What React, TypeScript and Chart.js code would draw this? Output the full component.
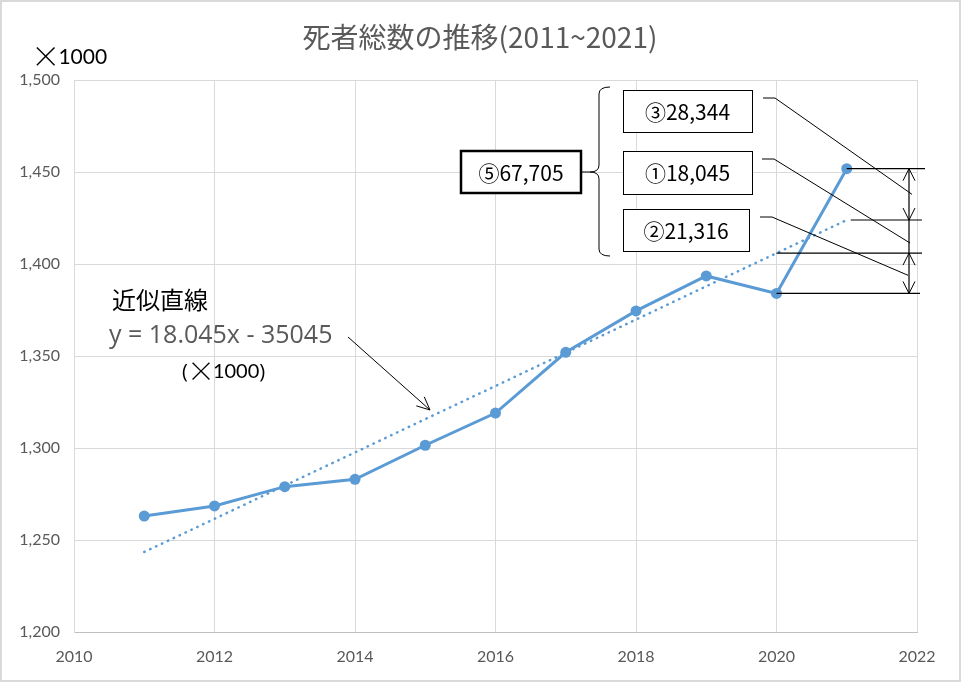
import { useEffect, useRef } from 'react';
import { Chart, registerables, type Plugin } from 'chart.js';

Chart.register(...registerables);

const years = [2011, 2012, 2013, 2014, 2015, 2016, 2017, 2018, 2019, 2020, 2021];
const deaths = [1263, 1268.5, 1279, 1283, 1301.5, 1319, 1352, 1374.5, 1393.5, 1384, 1451.8];
// straight-line fit as drawn (y = 18.045x - 35045, in thousands)
const trend = [1243.5, 1261.5, 1279.6, 1297.6, 1315.7, 1333.7, 1351.8, 1369.8, 1387.9, 1405.9, 1423.9];
const yTicks = [1200, 1250, 1300, 1350, 1400, 1450, 1500];
const xTicks = [2010, 2012, 2014, 2016, 2018, 2020, 2022];

const TITLE = '死者総数の推移(2011~2021)';
const boxLabels = ['③28,344', '①18,045', '②21,316'];
const totalLabel = '⑤67,705';
const fitLabel = '近似直線';
const fitEquation = 'y = 18.045x - 35045';

const JP = "'Noto Sans CJK JP', sans-serif";
const NUM = "Lato, 'Noto Sans', sans-serif";
const WIDE = "'Open Sans', 'Noto Sans', sans-serif";
const BLUE = '#5b9bd5';
const GRAY = '#595959';

function arrowHead(ctx: CanvasRenderingContext2D, x: number, y: number, fromX: number, fromY: number, len = 12, half = 6) {
  const a = Math.atan2(y - fromY, x - fromX);
  const w = Math.atan2(half, len);
  const l = Math.hypot(len, half);
  ctx.beginPath();
  ctx.moveTo(x - l * Math.cos(a - w), y - l * Math.sin(a - w));
  ctx.lineTo(x, y);
  ctx.lineTo(x - l * Math.cos(a + w), y - l * Math.sin(a + w));
  ctx.stroke();
}

// "×1000" with a large thin cross, as in the original
function timesThousand(ctx: CanvasRenderingContext2D, x: number, y: number, size: number) {
  ctx.textAlign = 'left';
  ctx.font = `300 ${size * 1.4}px ${JP}`;
  ctx.fillText('×', x - 3, y - 1);
  const w = ctx.measureText('×').width - 5;
  ctx.font = `${size}px ${NUM}`;
  ctx.fillText('1000', x + w, y);
  return w + ctx.measureText('1000').width;
}

const notes: Plugin = {
  id: 'notes',
  beforeDraw(chart) {
    const { ctx, width, height } = chart;
    ctx.save();
    ctx.fillStyle = '#fff';
    ctx.fillRect(0, 0, width, height);
    ctx.restore();
  },
  afterDraw(chart) {
    const { ctx, width, height } = chart;
    const xs = chart.scales.x;
    const ys = chart.scales.y;
    ctx.save();

    // frame
    ctx.strokeStyle = '#d9d9d9';
    ctx.lineWidth = 2;
    ctx.strokeRect(1, 1, width - 2, height - 2);

    // title + unit
    ctx.textAlign = 'center';
    ctx.textBaseline = 'middle';
    ctx.fillStyle = GRAY;
    ctx.font = `28px ${JP}`;
    ctx.fillText(TITLE, 480, 37);
    ctx.fillStyle = '#000';
    timesThousand(ctx, 34, 57, 21);

    // fit label and arrow
    ctx.textAlign = 'left';
    ctx.font = `24px ${JP}`;
    ctx.fillText(fitLabel, 112, 300);
    ctx.fillStyle = GRAY;
    ctx.font = `25px ${WIDE}`;
    ctx.fillText(fitEquation, 109, 336);
    ctx.fillStyle = '#000';
    ctx.font = `20px ${WIDE}`;
    ctx.fillText('(', 182, 372);
    let px = 182 + ctx.measureText('(').width + 2;
    px += timesThousand(ctx, px, 372, 20);
    ctx.font = `20px ${WIDE}`;
    ctx.fillText(')', px, 372);
    ctx.strokeStyle = '#000';
    ctx.lineWidth = 1;
    ctx.beginPath();
    ctx.moveTo(348, 337);
    ctx.lineTo(430, 410);
    ctx.stroke();
    arrowHead(ctx, 430, 410, 348, 337, 13, 6);

    // right-side difference markers
    const i20 = years.indexOf(2020);
    const i21 = years.indexOf(2021);
    const yA21 = ys.getPixelForValue(deaths[i21]);
    const yT21 = ys.getPixelForValue(trend[i21]);
    const yT20 = ys.getPixelForValue(trend[i20]);
    const yA20 = ys.getPixelForValue(deaths[i20]);
    const x21 = xs.getPixelForValue(2021);
    const x20 = xs.getPixelForValue(2020);
    const vx = 909;
    ctx.lineWidth = 1.2;
    ctx.beginPath();
    ctx.moveTo(x21, yA21); ctx.lineTo(925, yA21);
    ctx.moveTo(x21 + 4, yT21); ctx.lineTo(922, yT21);
    ctx.moveTo(x20, yT20); ctx.lineTo(922, yT20);
    ctx.moveTo(x20, yA20); ctx.lineTo(920, yA20);
    ctx.moveTo(vx, yA21); ctx.lineTo(vx, yA20);
    ctx.stroke();
    ctx.lineWidth = 1;
    arrowHead(ctx, vx, yA21, vx, yT21, 12, 6);
    arrowHead(ctx, vx, yT21, vx, yA21, 12, 6);
    arrowHead(ctx, vx, yT20, vx, yA20, 12, 6);
    arrowHead(ctx, vx, yA20, vx, yT20, 12, 6);

    // boxes with leaders
    const boxes = [
      { x: 623, y: 90, w: 129, h: 42, lx: 763, ly: 98, ex: 912, ey: (yA21 + yT21) / 2 },
      { x: 623, y: 151, w: 129, h: 43, lx: 762, ly: 159, ex: 910, ey: yT21 + 23 },
      { x: 623, y: 209, w: 126, h: 42, lx: 760, ly: 217, ex: 908, ey: (yT20 + yA20) / 2 + 2 },
    ];
    ctx.font = `21px ${JP}`;
    ctx.textAlign = 'center';
    boxes.forEach((b, i) => {
      ctx.lineWidth = 1;
      ctx.strokeStyle = '#000';
      ctx.fillStyle = '#fff';
      ctx.fillRect(b.x, b.y, b.w, b.h);
      ctx.strokeRect(b.x + 0.5, b.y + 0.5, b.w, b.h);
      ctx.fillStyle = '#000';
      ctx.fillText(boxLabels[i], b.x + b.w / 2, b.y + b.h / 2 + 1);
      ctx.beginPath();
      ctx.moveTo(b.lx, b.ly);
      ctx.lineTo(b.lx + 12, b.ly);
      ctx.lineTo(b.ex, b.ey);
      ctx.stroke();
    });

    // brace
    ctx.lineWidth = 1;
    ctx.beginPath();
    ctx.moveTo(610, 87);
    ctx.quadraticCurveTo(599, 87, 599, 94);
    ctx.lineTo(599, 165);
    ctx.quadraticCurveTo(599, 172, 590, 172);
    ctx.quadraticCurveTo(599, 172, 599, 179);
    ctx.lineTo(599, 249);
    ctx.quadraticCurveTo(599, 256, 610, 256);
    ctx.moveTo(582, 172);
    ctx.lineTo(590, 172);
    ctx.stroke();

    // total box
    ctx.lineWidth = 2.5;
    ctx.fillStyle = '#fff';
    ctx.fillRect(460, 150, 122, 44);
    ctx.strokeRect(461, 151, 120, 42);
    ctx.fillStyle = '#000';
    ctx.fillText(totalLabel, 521, 173);

    ctx.restore();
  },
};

export default function App() {
  const canvas = useRef<HTMLCanvasElement>(null);
  useEffect(() => {
    document.body.style.margin = '0';
    if (!canvas.current) return;
    const chart = new Chart(canvas.current, {
      type: 'line',
      data: {
        datasets: [
          {
            label: 'trend',
            data: years.map((x, i) => ({ x, y: trend[i] })),
            borderColor: BLUE,
            borderWidth: 2.5,
            borderDash: [0.5, 6],
            borderCapStyle: 'round',
            pointRadius: 0,
            fill: false,
          },
          {
            label: 'deaths',
            data: years.map((x, i) => ({ x, y: deaths[i] })),
            borderColor: BLUE,
            backgroundColor: BLUE,
            borderWidth: 3,
            pointRadius: 5.5,
            pointBorderWidth: 0,
            pointBackgroundColor: BLUE,
            fill: false,
          },
        ],
      },
      options: {
        animation: false,
        responsive: true,
        maintainAspectRatio: false,
        layout: { padding: { top: 80, right: 44, left: 0, bottom: 0 } },
        plugins: { legend: { display: false }, tooltip: { enabled: false }, title: { display: false } },
        scales: {
          x: {
            type: 'linear',
            min: 2010,
            max: 2022,
            afterBuildTicks: (s) => { s.ticks = xTicks.map((value) => ({ value })); },
            afterFit: (s) => { s.height = 50; },
            grid: { color: '#d9d9d9', drawTicks: false },
            border: { color: '#bfbfbf' },
            ticks: { color: GRAY, font: { family: NUM, size: 16 }, padding: 15, callback: (v) => String(v) },
          },
          y: {
            min: 1200,
            max: 1500,
            afterBuildTicks: (s) => { s.ticks = yTicks.map((value) => ({ value })); },
            afterFit: (s) => { s.width = 74; },
            grid: { color: '#d9d9d9', drawTicks: false },
            border: { color: '#d9d9d9' },
            ticks: { color: GRAY, font: { family: NUM, size: 16 }, padding: 14, callback: (v) => Number(v).toLocaleString('en-US') },
          },
        },
      },
      plugins: [notes],
    });
    return () => chart.destroy();
  }, []);
  return (
    <div style={{ width: 961, height: 682, position: 'relative' }}>
      <canvas ref={canvas} />
    </div>
  );
}
